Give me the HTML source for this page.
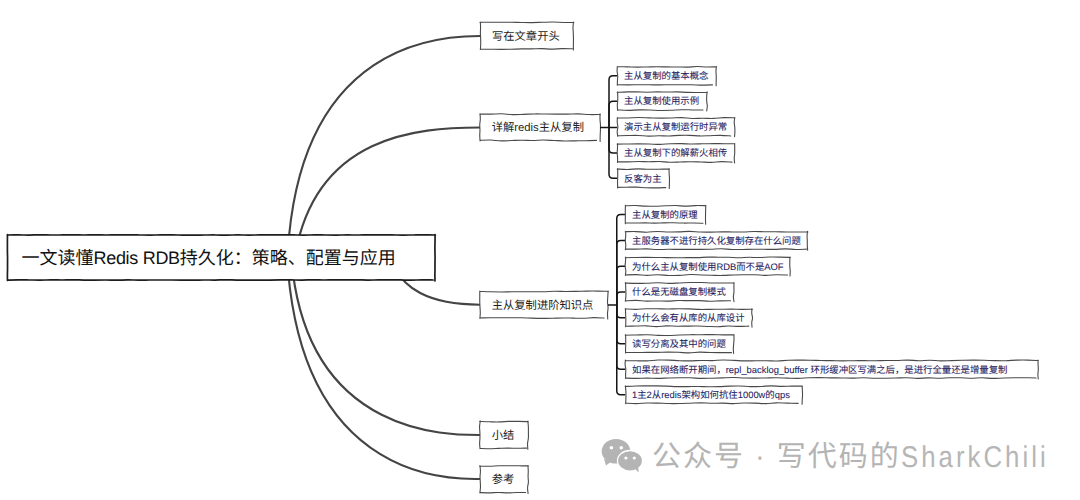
<!DOCTYPE html><html lang="zh-CN"><head><meta charset="utf-8"><style>
html,body{margin:0;padding:0;background:#fff;width:1080px;height:500px;overflow:hidden;position:relative}
.t{position:absolute;white-space:nowrap;font-family:"Liberation Sans",sans-serif;line-height:1;text-rendering:geometricPrecision}
.leaf{-webkit-text-stroke:0.08px #26235f}
</style></head><body>
<svg width="1080" height="500" style="position:absolute;left:0;top:0">
<path d="M287.8,251.7 C300.8,42.5 439.3,36 480,36" fill="none" stroke="#444" stroke-width="2.1"/>
<path d="M295.5,253.0 C317.4,135.8 416.2,127.5 480,127.5" fill="none" stroke="#444" stroke-width="2.1"/>
<path d="M395.9,268.8 C403.6,285.6 425.0,304.7 480,304.7" fill="none" stroke="#444" stroke-width="2.1"/>
<path d="M292.9,273.0 C314.0,436.2 448.4,435 480,435" fill="none" stroke="#444" stroke-width="2.1"/>
<path d="M288.1,271.4 C307.0,487.9 460.9,479 480,479" fill="none" stroke="#444" stroke-width="2.1"/>
<rect x="7.5" y="235" width="427.50" height="45.00" fill="#fff" stroke="none"/>
<path d="M7.20,234.98 C9.03,234.97 14.52,234.91 18.18,234.92 C21.84,234.93 25.50,235.04 29.16,235.04 C32.82,235.03 36.48,234.90 40.14,234.90 C43.80,234.89 47.46,235.00 51.12,235.01 C54.78,235.02 58.44,234.99 62.10,234.97 C65.76,234.95 69.42,234.89 73.08,234.89 C76.74,234.90 80.40,235.00 84.06,235.00 C87.72,235.00 91.38,234.89 95.04,234.89 C98.70,234.89 102.36,234.98 106.02,234.98 C109.68,234.99 113.34,234.91 116.99,234.90 C120.65,234.88 124.31,234.89 127.97,234.90 C131.63,234.92 135.29,234.95 138.95,234.98 C142.61,235.01 146.27,235.09 149.93,235.08 C153.59,235.07 157.25,234.93 160.91,234.91 C164.57,234.89 168.23,234.91 171.89,234.93 C175.55,234.95 179.21,235.00 182.87,235.03 C186.53,235.06 190.19,235.11 193.85,235.11 C197.51,235.11 201.17,235.04 204.83,235.02 C208.49,235.00 212.15,234.96 215.81,234.98 C219.47,234.99 223.13,235.13 226.79,235.11 C230.45,235.10 234.11,234.90 237.77,234.89 C241.43,234.89 245.09,235.08 248.75,235.09 C252.41,235.10 256.07,234.98 259.73,234.95 C263.39,234.92 267.05,234.92 270.71,234.91 C274.37,234.91 278.03,234.90 281.69,234.91 C285.35,234.91 289.01,234.93 292.67,234.95 C296.33,234.98 299.99,235.08 303.65,235.08 C307.31,235.07 310.97,234.93 314.63,234.92 C318.29,234.91 321.95,235.00 325.61,235.02 C329.26,235.04 332.92,235.04 336.58,235.03 C340.24,235.02 343.90,234.97 347.56,234.97 C351.22,234.97 354.88,235.02 358.54,235.01 C362.20,235.00 365.86,234.91 369.52,234.90 C373.18,234.88 376.84,234.89 380.50,234.89 C384.16,234.90 387.82,234.90 391.48,234.93 C395.14,234.95 398.80,235.03 402.46,235.04 C406.12,235.05 409.78,235.00 413.44,234.98 C417.10,234.97 420.76,234.95 424.42,234.96 C428.08,234.96 433.57,235.00 435.40,235.01 M435.01,234.60 C435.02,235.56 435.07,238.46 435.06,240.39 C435.04,242.32 434.93,244.25 434.92,246.17 C434.90,248.10 434.92,250.03 434.94,251.96 C434.97,253.89 435.07,255.82 435.07,257.75 C435.08,259.68 434.99,261.61 434.98,263.54 C434.97,265.47 435.01,267.40 434.99,269.32 C434.98,271.25 434.90,273.18 434.89,275.11 C434.89,277.04 434.95,279.94 434.97,280.90 M7.50,280.06 C9.32,280.03 14.78,279.92 18.41,279.91 C22.05,279.90 25.69,279.95 29.33,279.98 C32.97,280.01 36.60,280.07 40.24,280.06 C43.88,280.05 47.52,279.93 51.15,279.92 C54.79,279.91 58.43,280.00 62.07,280.00 C65.71,279.99 69.34,279.88 72.98,279.89 C76.62,279.90 80.26,280.01 83.90,280.04 C87.53,280.07 91.17,280.07 94.81,280.06 C98.45,280.06 102.09,280.01 105.72,280.02 C109.36,280.02 113.00,280.10 116.64,280.09 C120.28,280.08 123.91,279.96 127.55,279.96 C131.19,279.95 134.83,280.04 138.46,280.05 C142.10,280.06 145.74,280.03 149.38,280.02 C153.02,280.02 156.65,280.02 160.29,280.02 C163.93,280.01 167.57,279.98 171.21,279.99 C174.84,280.00 178.48,280.06 182.12,280.08 C185.76,280.10 189.40,280.12 193.03,280.11 C196.67,280.09 200.31,280.01 203.95,279.99 C207.59,279.98 211.22,280.06 214.86,280.04 C218.50,280.02 222.14,279.89 225.77,279.89 C229.41,279.90 233.05,280.02 236.69,280.05 C240.33,280.07 243.96,280.02 247.60,280.04 C251.24,280.05 254.88,280.11 258.52,280.12 C262.15,280.13 265.79,280.11 269.43,280.08 C273.07,280.05 276.71,279.97 280.34,279.95 C283.98,279.93 287.62,279.96 291.26,279.97 C294.90,279.99 298.53,280.06 302.17,280.04 C305.81,280.03 309.45,279.89 313.08,279.89 C316.72,279.88 320.36,279.98 324.00,279.99 C327.64,280.00 331.27,279.93 334.91,279.92 C338.55,279.91 342.19,279.91 345.83,279.91 C349.46,279.90 353.10,279.87 356.74,279.89 C360.38,279.92 364.02,280.06 367.65,280.06 C371.29,280.07 374.93,279.93 378.57,279.91 C382.21,279.89 385.84,279.93 389.48,279.94 C393.12,279.95 396.76,279.95 400.39,279.97 C404.03,280.00 407.67,280.10 411.31,280.09 C414.95,280.08 418.58,279.92 422.22,279.90 C425.86,279.88 431.32,279.98 433.14,279.99 M7.49,234.60 C7.48,235.56 7.42,238.43 7.41,240.34 C7.40,242.25 7.42,244.16 7.42,246.07 C7.42,247.99 7.39,249.90 7.41,251.81 C7.43,253.72 7.54,255.64 7.55,257.55 C7.57,259.46 7.52,261.38 7.52,263.29 C7.52,265.20 7.55,267.11 7.53,269.02 C7.52,270.94 7.42,272.85 7.41,274.76 C7.39,276.68 7.44,279.54 7.45,280.50" fill="none" stroke="#1e1e1e" stroke-width="1.7" stroke-linecap="round"/>
<rect x="480.25" y="22.5" width="93.25" height="26.50" fill="#fff" stroke="none"/>
<path d="M479.95,22.34 C481.69,22.32 486.91,22.22 490.39,22.21 C493.87,22.19 497.35,22.25 500.83,22.26 C504.31,22.27 507.79,22.22 511.27,22.26 C514.75,22.30 518.23,22.43 521.71,22.49 C525.19,22.54 528.66,22.61 532.14,22.58 C535.62,22.55 539.10,22.37 542.58,22.29 C546.06,22.20 549.54,22.03 553.02,22.05 C556.50,22.08 559.98,22.36 563.46,22.43 C566.94,22.49 572.16,22.44 573.90,22.44 M573.46,22.10 C573.39,23.03 573.04,25.81 573.01,27.66 C572.98,29.51 573.22,31.37 573.29,33.22 C573.37,35.07 573.47,36.93 573.48,38.78 C573.50,40.63 573.39,42.49 573.37,44.34 C573.36,46.19 573.40,48.97 573.40,49.90 M480.25,49.18 C481.96,49.19 487.07,49.23 490.48,49.25 C493.89,49.28 497.30,49.33 500.71,49.34 C504.12,49.34 507.54,49.34 510.95,49.27 C514.36,49.20 517.77,48.96 521.18,48.90 C524.59,48.84 528.00,48.95 531.41,48.91 C534.82,48.87 538.23,48.61 541.64,48.64 C545.05,48.68 548.46,49.13 551.87,49.12 C555.28,49.11 558.70,48.66 562.11,48.61 C565.52,48.55 570.63,48.77 572.34,48.81 M480.38,22.10 C480.41,23.01 480.55,25.75 480.55,27.58 C480.56,29.41 480.38,31.23 480.39,33.06 C480.41,34.89 480.60,36.71 480.65,38.54 C480.70,40.37 480.74,42.19 480.70,44.02 C480.66,45.85 480.46,48.59 480.41,49.50" fill="none" stroke="#4a4a4a" stroke-width="1.1" stroke-linecap="round"/>
<rect x="480.0" y="114.25" width="120.00" height="26.25" fill="#fff" stroke="none"/>
<path d="M479.70,114.07 C481.53,114.08 487.02,114.17 490.67,114.13 C494.33,114.09 497.99,113.75 501.65,113.82 C505.30,113.90 508.96,114.50 512.62,114.59 C516.28,114.68 519.93,114.46 523.59,114.35 C527.25,114.24 530.91,113.99 534.56,113.93 C538.22,113.88 541.88,114.00 545.54,114.03 C549.19,114.06 552.85,114.10 556.51,114.11 C560.17,114.13 563.82,114.16 567.48,114.13 C571.14,114.09 574.80,113.84 578.45,113.91 C582.11,113.98 585.77,114.47 589.43,114.56 C593.08,114.66 598.57,114.49 600.40,114.47 M600.02,113.85 C600.02,114.77 599.95,117.52 600.02,119.36 C600.09,121.20 600.38,123.03 600.45,124.87 C600.52,126.71 600.48,128.54 600.43,130.38 C600.38,132.22 600.22,134.05 600.17,135.89 C600.12,137.73 600.13,140.48 600.13,141.40 M480.00,140.35 C481.77,140.30 487.06,139.98 490.59,140.07 C494.12,140.16 497.65,140.83 501.18,140.91 C504.71,140.98 508.25,140.65 511.78,140.53 C515.31,140.40 518.84,140.18 522.37,140.18 C525.90,140.18 529.43,140.56 532.96,140.54 C536.49,140.52 540.02,140.08 543.55,140.07 C547.08,140.07 550.61,140.38 554.14,140.53 C557.68,140.67 561.21,140.88 564.74,140.93 C568.27,140.98 571.80,140.87 575.33,140.83 C578.86,140.78 582.39,140.75 585.92,140.68 C589.45,140.60 594.75,140.44 596.51,140.39 M480.06,113.85 C480.10,114.75 480.35,117.47 480.30,119.28 C480.25,121.09 479.81,122.90 479.76,124.71 C479.70,126.52 479.97,128.33 479.97,130.14 C479.97,131.95 479.73,133.76 479.75,135.57 C479.77,137.38 480.02,140.09 480.08,141.00" fill="none" stroke="#4a4a4a" stroke-width="1.1" stroke-linecap="round"/>
<rect x="480.0" y="291.5" width="128.00" height="26.50" fill="#fff" stroke="none"/>
<path d="M479.70,291.38 C481.49,291.44 486.85,291.69 490.43,291.78 C494.00,291.87 497.57,291.93 501.15,291.94 C504.72,291.94 508.30,291.84 511.88,291.82 C515.45,291.79 519.02,291.78 522.60,291.78 C526.18,291.77 529.75,291.80 533.33,291.79 C536.90,291.78 540.47,291.80 544.05,291.72 C547.62,291.63 551.20,291.29 554.77,291.25 C558.35,291.22 561.92,291.50 565.50,291.52 C569.08,291.54 572.65,291.44 576.23,291.37 C579.80,291.30 583.38,291.13 586.95,291.08 C590.53,291.03 594.10,291.02 597.67,291.08 C601.25,291.13 606.61,291.35 608.40,291.40 M608.13,291.10 C608.07,292.03 607.90,294.81 607.79,296.66 C607.69,298.51 607.46,300.37 607.51,302.22 C607.55,304.07 608.05,305.93 608.06,307.78 C608.06,309.63 607.58,311.49 607.53,313.34 C607.47,315.19 607.70,317.97 607.74,318.90 M480.00,317.94 C481.72,317.91 486.90,317.78 490.34,317.75 C493.79,317.72 497.24,317.76 500.69,317.75 C504.14,317.75 507.59,317.73 511.03,317.73 C514.48,317.72 517.93,317.67 521.38,317.73 C524.83,317.80 528.27,318.01 531.72,318.11 C535.17,318.22 538.62,318.33 542.07,318.36 C545.52,318.39 548.96,318.37 552.41,318.31 C555.86,318.24 559.31,318.01 562.76,317.98 C566.20,317.95 569.65,318.09 573.10,318.14 C576.55,318.19 580.00,318.35 583.45,318.27 C586.89,318.18 590.34,317.66 593.79,317.63 C597.24,317.59 602.41,318.00 604.13,318.07 M479.82,291.10 C479.80,292.01 479.75,294.75 479.75,296.58 C479.74,298.41 479.73,300.23 479.77,302.06 C479.82,303.89 479.93,305.71 480.02,307.54 C480.11,309.37 480.31,311.19 480.29,313.02 C480.26,314.85 479.94,317.59 479.87,318.50" fill="none" stroke="#4a4a4a" stroke-width="1.1" stroke-linecap="round"/>
<rect x="480.0" y="421.5" width="48.00" height="26.75" fill="#fff" stroke="none"/>
<path d="M479.70,421.42 C481.32,421.48 486.19,421.69 489.44,421.77 C492.69,421.85 495.93,421.99 499.18,421.92 C502.43,421.86 505.67,421.49 508.92,421.41 C512.17,421.32 515.41,421.36 518.66,421.41 C521.91,421.46 526.78,421.65 528.40,421.70 M527.88,421.10 C527.96,422.04 528.27,424.84 528.36,426.71 C528.44,428.58 528.40,430.45 528.40,432.32 C528.41,434.19 528.52,436.06 528.38,437.93 C528.24,439.80 527.65,441.67 527.56,443.54 C527.47,445.41 527.79,448.21 527.83,449.15 M480.00,448.40 C481.55,448.44 486.21,448.68 489.31,448.68 C492.42,448.68 495.52,448.49 498.62,448.39 C501.73,448.30 504.83,448.13 507.94,448.12 C511.04,448.10 514.15,448.30 517.25,448.29 C520.35,448.29 525.01,448.12 526.56,448.08 M480.22,421.10 C480.11,422.02 479.64,424.79 479.58,426.63 C479.52,428.47 479.80,430.32 479.87,432.16 C479.93,434.00 480.02,435.85 479.98,437.69 C479.93,439.53 479.60,441.38 479.61,443.22 C479.62,445.06 479.96,447.83 480.03,448.75" fill="none" stroke="#4a4a4a" stroke-width="1.1" stroke-linecap="round"/>
<rect x="480.0" y="466.0" width="48.00" height="26.50" fill="#fff" stroke="none"/>
<path d="M479.70,466.17 C481.32,466.19 486.19,466.36 489.44,466.29 C492.69,466.22 495.93,465.83 499.18,465.74 C502.43,465.65 505.67,465.76 508.92,465.78 C512.17,465.79 515.41,465.80 518.66,465.81 C521.91,465.83 526.78,465.87 528.40,465.88 M527.95,465.60 C528.00,466.53 528.24,469.31 528.26,471.16 C528.28,473.01 528.06,474.87 528.09,476.72 C528.11,478.57 528.49,480.43 528.40,482.28 C528.31,484.13 527.61,485.99 527.56,487.84 C527.50,489.69 527.99,492.47 528.08,493.40 M480.00,492.54 C481.52,492.59 486.08,492.88 489.13,492.86 C492.17,492.85 495.21,492.43 498.25,492.43 C501.29,492.43 504.33,492.86 507.38,492.88 C510.42,492.89 513.46,492.56 516.50,492.50 C519.54,492.44 524.10,492.51 525.63,492.51 M479.99,465.60 C480.06,466.51 480.42,469.25 480.43,471.08 C480.44,472.91 480.08,474.73 480.05,476.56 C480.03,478.39 480.22,480.21 480.29,482.04 C480.35,483.87 480.52,485.69 480.45,487.52 C480.38,489.35 479.96,492.09 479.87,493.00" fill="none" stroke="#4a4a4a" stroke-width="1.1" stroke-linecap="round"/>
<path d="M600,127.5 L609,127.5" fill="none" stroke="#151515" stroke-width="1.5"/>
<path d="M609,127.5 L609,79.825 Q609,75.825 613,75.825 L617.5,75.825" fill="none" stroke="#151515" stroke-width="1.5"/>
<path d="M609,127.5 L609,105.125 Q609,101.125 613,101.125 L617.5,101.125" fill="none" stroke="#151515" stroke-width="1.5"/>
<path d="M609,127.5 L617.5,127.5" fill="none" stroke="#151515" stroke-width="1.5"/>
<path d="M609,127.5 L609,149.0 Q609,153.0 613,153.0 L617.5,153.0" fill="none" stroke="#151515" stroke-width="1.5"/>
<path d="M609,127.5 L609,174.25 Q609,178.25 613,178.25 L617.5,178.25" fill="none" stroke="#151515" stroke-width="1.5"/>
<rect x="617.5" y="66.9" width="98.75" height="17.85" fill="#fff" stroke="none"/>
<path d="M617.20,66.75 C618.86,66.77 623.83,66.82 627.14,66.88 C630.46,66.93 633.77,67.09 637.09,67.10 C640.41,67.12 643.72,67.01 647.04,66.95 C650.35,66.89 653.67,66.75 656.98,66.74 C660.29,66.74 663.61,66.88 666.92,66.92 C670.24,66.95 673.55,66.91 676.87,66.95 C680.19,66.99 683.50,67.22 686.82,67.16 C690.13,67.09 693.45,66.58 696.76,66.55 C700.07,66.51 703.39,66.91 706.70,66.95 C710.02,66.99 714.99,66.81 716.65,66.79 M716.37,66.50 C716.30,67.30 715.98,69.69 715.96,71.29 C715.93,72.88 716.20,74.48 716.24,76.08 C716.28,77.67 716.21,79.27 716.18,80.86 C716.16,82.46 716.12,84.85 716.11,85.65 M617.50,84.72 C619.26,84.75 624.54,84.85 628.06,84.85 C631.58,84.86 635.09,84.77 638.61,84.75 C642.13,84.74 645.65,84.73 649.17,84.76 C652.69,84.79 656.21,84.93 659.73,84.92 C663.25,84.91 666.77,84.73 670.28,84.71 C673.80,84.68 677.32,84.78 680.84,84.78 C684.36,84.78 687.88,84.67 691.40,84.73 C694.92,84.79 698.44,85.13 701.96,85.15 C705.47,85.17 710.75,84.89 712.51,84.84 M617.33,66.50 C617.29,67.28 617.04,69.62 617.10,71.19 C617.17,72.75 617.66,74.31 617.72,75.88 C617.77,77.44 617.52,79.00 617.45,80.56 C617.38,82.12 617.32,84.47 617.30,85.25" fill="none" stroke="#4a4a4a" stroke-width="1.1" stroke-linecap="round"/>
<rect x="617.5" y="92.25" width="89.40" height="17.75" fill="#fff" stroke="none"/>
<path d="M617.20,92.40 C618.87,92.32 623.87,92.01 627.21,91.92 C630.55,91.84 633.89,91.86 637.22,91.91 C640.56,91.96 643.90,92.21 647.23,92.20 C650.57,92.19 653.91,91.90 657.24,91.87 C660.58,91.84 663.92,92.02 667.26,92.02 C670.59,92.02 673.93,91.80 677.27,91.87 C680.60,91.93 683.94,92.30 687.28,92.40 C690.61,92.51 693.95,92.50 697.29,92.51 C700.63,92.51 705.63,92.44 707.30,92.43 M707.09,91.85 C707.02,92.64 706.73,95.02 706.67,96.61 C706.61,98.20 706.62,99.79 706.73,101.38 C706.83,102.96 707.29,104.55 707.29,106.14 C707.28,107.73 706.79,110.11 706.69,110.90 M617.50,109.87 C619.28,109.96 624.62,110.40 628.19,110.41 C631.75,110.41 635.31,109.98 638.87,109.91 C642.44,109.84 646.00,109.90 649.56,109.99 C653.12,110.08 656.69,110.39 660.25,110.44 C663.81,110.49 667.37,110.42 670.94,110.30 C674.50,110.17 678.06,109.76 681.62,109.70 C685.19,109.64 688.75,109.89 692.31,109.94 C695.87,109.99 701.22,110.00 703.00,110.01 M617.57,91.85 C617.61,92.63 617.76,94.96 617.77,96.51 C617.79,98.07 617.74,99.62 617.66,101.17 C617.58,102.73 617.29,104.28 617.30,105.84 C617.31,107.39 617.65,109.72 617.72,110.50" fill="none" stroke="#4a4a4a" stroke-width="1.1" stroke-linecap="round"/>
<rect x="617.5" y="118.0" width="117.00" height="17.75" fill="#fff" stroke="none"/>
<path d="M617.20,118.02 C618.98,118.01 624.33,118.02 627.90,117.95 C631.47,117.87 635.03,117.58 638.60,117.57 C642.17,117.55 645.73,117.76 649.30,117.85 C652.87,117.94 656.43,118.08 660.00,118.11 C663.57,118.14 667.13,118.09 670.70,118.01 C674.27,117.93 677.83,117.54 681.40,117.61 C684.97,117.68 688.53,118.33 692.10,118.44 C695.67,118.55 699.23,118.26 702.80,118.26 C706.37,118.26 709.93,118.53 713.50,118.42 C717.07,118.32 720.63,117.73 724.20,117.64 C727.77,117.56 733.12,117.85 734.90,117.89 M734.75,117.60 C734.66,118.39 734.20,120.77 734.20,122.36 C734.20,123.95 734.63,125.54 734.75,127.12 C734.86,128.71 734.93,130.30 734.90,131.89 C734.87,133.47 734.60,135.86 734.54,136.65 M617.50,135.89 C619.22,135.83 624.36,135.61 627.80,135.53 C631.23,135.46 634.66,135.34 638.09,135.43 C641.53,135.53 644.96,136.06 648.39,136.13 C651.82,136.19 655.26,135.85 658.69,135.81 C662.12,135.78 665.55,136.00 668.98,135.93 C672.42,135.86 675.85,135.48 679.28,135.38 C682.71,135.28 686.15,135.26 689.58,135.35 C693.01,135.44 696.44,135.86 699.88,135.92 C703.31,135.97 706.74,135.78 710.17,135.68 C713.60,135.59 717.04,135.32 720.47,135.37 C723.90,135.41 729.05,135.85 730.77,135.95 M617.44,117.60 C617.40,118.38 617.16,120.71 617.23,122.26 C617.30,123.82 617.88,125.37 617.87,126.92 C617.87,128.48 617.21,130.03 617.18,131.59 C617.15,133.14 617.61,135.47 617.70,136.25" fill="none" stroke="#4a4a4a" stroke-width="1.1" stroke-linecap="round"/>
<rect x="617.5" y="144.0" width="117.00" height="18.00" fill="#fff" stroke="none"/>
<path d="M617.20,144.16 C618.98,144.13 624.33,144.01 627.90,143.96 C631.47,143.91 635.03,143.84 638.60,143.86 C642.17,143.87 645.73,143.96 649.30,144.05 C652.87,144.14 656.43,144.43 660.00,144.38 C663.57,144.34 667.13,143.91 670.70,143.79 C674.27,143.67 677.83,143.63 681.40,143.67 C684.97,143.71 688.53,144.01 692.10,144.02 C695.67,144.04 699.23,143.83 702.80,143.76 C706.37,143.70 709.93,143.66 713.50,143.65 C717.07,143.64 720.63,143.67 724.20,143.70 C727.77,143.72 733.12,143.78 734.90,143.80 M734.66,143.60 C734.67,144.40 734.69,146.82 734.70,148.43 C734.71,150.03 734.79,151.64 734.71,153.25 C734.63,154.86 734.24,156.47 734.22,158.07 C734.20,159.68 734.55,162.10 734.61,162.90 M617.50,161.86 C619.23,161.86 624.44,161.91 627.91,161.86 C631.38,161.81 634.85,161.58 638.32,161.57 C641.79,161.55 645.26,161.78 648.73,161.78 C652.20,161.77 655.67,161.49 659.14,161.56 C662.61,161.64 666.08,162.13 669.55,162.21 C673.02,162.29 676.48,162.13 679.95,162.05 C683.42,161.96 686.89,161.73 690.36,161.72 C693.83,161.71 697.30,161.87 700.77,161.98 C704.24,162.09 707.71,162.45 711.18,162.39 C714.65,162.34 718.12,161.69 721.59,161.65 C725.06,161.60 730.26,162.06 732.00,162.14 M617.53,143.60 C617.53,144.39 617.56,146.75 617.50,148.32 C617.45,149.90 617.18,151.48 617.20,153.05 C617.21,154.62 617.55,156.20 617.60,157.78 C617.65,159.35 617.51,161.71 617.50,162.50" fill="none" stroke="#4a4a4a" stroke-width="1.1" stroke-linecap="round"/>
<rect x="617.5" y="169.0" width="51.50" height="18.50" fill="#fff" stroke="none"/>
<path d="M617.20,169.08 C618.94,169.14 624.16,169.47 627.64,169.43 C631.12,169.40 634.60,168.88 638.08,168.86 C641.56,168.84 645.04,169.24 648.52,169.30 C652.00,169.35 655.48,169.23 658.96,169.19 C662.44,169.15 667.66,169.08 669.40,169.06 M669.05,168.60 C669.07,169.43 669.09,171.90 669.16,173.55 C669.24,175.20 669.44,176.85 669.48,178.50 C669.52,180.15 669.44,181.80 669.40,183.45 C669.36,185.10 669.26,187.57 669.23,188.40 M617.50,187.39 C619.11,187.36 623.94,187.24 627.16,187.20 C630.37,187.15 633.59,187.02 636.81,187.13 C640.03,187.23 643.25,187.69 646.47,187.81 C649.68,187.93 652.90,187.87 656.12,187.83 C659.34,187.80 664.17,187.62 665.78,187.58 M617.60,168.60 C617.62,169.41 617.72,171.83 617.73,173.45 C617.75,175.07 617.72,176.68 617.69,178.30 C617.65,179.92 617.54,181.53 617.54,183.15 C617.53,184.77 617.63,187.19 617.65,188.00" fill="none" stroke="#4a4a4a" stroke-width="1.1" stroke-linecap="round"/>
<path d="M608,305 L616.75,305" fill="none" stroke="#151515" stroke-width="1.5"/>
<path d="M616.75,305 L616.75,218.5 Q616.75,214.5 620.75,214.5 L625.5,214.5" fill="none" stroke="#151515" stroke-width="1.5"/>
<path d="M616.75,305 L616.75,244.5 Q616.75,240.5 620.75,240.5 L625.5,240.5" fill="none" stroke="#151515" stroke-width="1.5"/>
<path d="M616.75,305 L616.75,270.25 Q616.75,266.25 620.75,266.25 L625.5,266.25" fill="none" stroke="#151515" stroke-width="1.5"/>
<path d="M616.75,305 L616.75,295.875 Q616.75,291.875 620.75,291.875 L625.5,291.875" fill="none" stroke="#151515" stroke-width="1.5"/>
<path d="M616.75,305 L616.75,313.625 Q616.75,317.625 620.75,317.625 L625.5,317.625" fill="none" stroke="#151515" stroke-width="1.5"/>
<path d="M616.75,305 L616.75,339.75 Q616.75,343.75 620.75,343.75 L625.5,343.75" fill="none" stroke="#151515" stroke-width="1.5"/>
<path d="M616.75,305 L616.75,365.25 Q616.75,369.25 620.75,369.25 L625.5,369.25" fill="none" stroke="#151515" stroke-width="1.5"/>
<path d="M616.75,305 L616.75,390.75 Q616.75,394.75 620.75,394.75 L625.5,394.75" fill="none" stroke="#151515" stroke-width="1.5"/>
<rect x="625.5" y="205.75" width="80.00" height="17.50" fill="#fff" stroke="none"/>
<path d="M625.20,205.73 C626.88,205.69 631.93,205.46 635.29,205.54 C638.65,205.61 642.01,206.06 645.38,206.17 C648.74,206.27 652.10,206.24 655.46,206.18 C658.82,206.11 662.19,205.90 665.55,205.79 C668.91,205.68 672.28,205.46 675.64,205.52 C679.00,205.58 682.36,206.16 685.73,206.17 C689.09,206.18 692.45,205.66 695.81,205.58 C699.17,205.50 704.22,205.67 705.90,205.69 M705.77,205.35 C705.75,206.13 705.67,208.48 705.63,210.05 C705.59,211.62 705.55,213.18 705.53,214.75 C705.51,216.32 705.47,217.88 705.50,219.45 C705.52,221.02 705.63,223.37 705.66,224.15 M625.50,223.03 C627.11,223.03 631.96,223.06 635.19,223.04 C638.41,223.01 641.64,222.86 644.87,222.88 C648.10,222.90 651.33,223.17 654.56,223.16 C657.79,223.15 661.01,222.89 664.24,222.84 C667.47,222.78 670.70,222.78 673.93,222.82 C677.16,222.86 680.39,223.04 683.61,223.07 C686.84,223.11 690.07,222.97 693.30,223.01 C696.53,223.05 701.37,223.24 702.99,223.29 M625.49,205.35 C625.45,206.12 625.30,208.42 625.27,209.95 C625.25,211.48 625.35,213.02 625.36,214.55 C625.36,216.08 625.31,217.62 625.31,219.15 C625.30,220.68 625.33,222.98 625.33,223.75" fill="none" stroke="#4a4a4a" stroke-width="1.1" stroke-linecap="round"/>
<rect x="625.5" y="231.75" width="182.00" height="17.50" fill="#fff" stroke="none"/>
<path d="M625.20,231.70 C626.99,231.68 632.36,231.51 635.95,231.59 C639.53,231.67 643.11,232.21 646.69,232.19 C650.28,232.16 653.86,231.47 657.44,231.43 C661.02,231.40 664.61,231.88 668.19,231.95 C671.77,232.03 675.35,231.98 678.94,231.88 C682.52,231.78 686.10,231.31 689.68,231.34 C693.26,231.37 696.85,231.92 700.43,232.05 C704.01,232.18 707.59,232.13 711.18,232.10 C714.76,232.07 718.34,231.89 721.92,231.86 C725.51,231.84 729.09,231.93 732.67,231.96 C736.25,231.99 739.84,232.12 743.42,232.03 C747.00,231.94 750.58,231.47 754.16,231.43 C757.75,231.38 761.33,231.72 764.91,231.77 C768.49,231.83 772.08,231.71 775.66,231.75 C779.24,231.80 782.82,232.01 786.41,232.05 C789.99,232.10 793.57,232.05 797.15,232.02 C800.74,232.00 806.11,231.92 807.90,231.90 M807.45,231.35 C807.39,232.13 807.10,234.48 807.08,236.05 C807.05,237.62 807.27,239.18 807.30,240.75 C807.34,242.32 807.23,243.88 807.29,245.45 C807.35,247.02 807.59,249.37 807.65,250.15 M625.50,249.08 C627.27,249.09 632.59,249.16 636.14,249.12 C639.69,249.09 643.24,248.82 646.78,248.89 C650.33,248.97 653.88,249.48 657.42,249.55 C660.97,249.62 664.52,249.33 668.07,249.30 C671.61,249.27 675.16,249.35 678.71,249.36 C682.25,249.38 685.80,249.36 689.35,249.36 C692.90,249.37 696.44,249.43 699.99,249.41 C703.54,249.39 707.09,249.34 710.63,249.24 C714.18,249.14 717.73,248.76 721.27,248.80 C724.82,248.85 728.37,249.41 731.92,249.52 C735.46,249.63 739.01,249.52 742.56,249.47 C746.10,249.43 749.65,249.28 753.20,249.25 C756.75,249.22 760.29,249.26 763.84,249.28 C767.39,249.31 770.93,249.46 774.48,249.39 C778.03,249.32 781.58,248.85 785.12,248.86 C788.67,248.87 792.22,249.42 795.76,249.46 C799.31,249.51 804.63,249.19 806.41,249.14 M625.69,231.35 C625.69,232.12 625.78,234.42 625.71,235.95 C625.64,237.48 625.28,239.02 625.29,240.55 C625.30,242.08 625.75,243.62 625.77,245.15 C625.78,246.68 625.45,248.98 625.39,249.75" fill="none" stroke="#4a4a4a" stroke-width="1.1" stroke-linecap="round"/>
<rect x="625.5" y="257.5" width="164.50" height="17.50" fill="#fff" stroke="none"/>
<path d="M625.20,257.71 C626.92,257.68 632.08,257.55 635.53,257.49 C638.97,257.44 642.41,257.40 645.85,257.39 C649.29,257.39 652.73,257.44 656.18,257.48 C659.62,257.53 663.06,257.62 666.50,257.67 C669.94,257.71 673.38,257.75 676.83,257.74 C680.27,257.73 683.71,257.62 687.15,257.61 C690.59,257.59 694.03,257.71 697.48,257.63 C700.92,257.55 704.36,257.19 707.80,257.12 C711.24,257.05 714.68,257.16 718.12,257.18 C721.57,257.21 725.01,257.19 728.45,257.28 C731.89,257.37 735.33,257.71 738.77,257.72 C742.22,257.73 745.66,257.35 749.10,257.32 C752.54,257.30 755.98,257.60 759.42,257.56 C762.87,257.52 766.31,257.14 769.75,257.06 C773.19,256.99 776.63,257.05 780.08,257.10 C783.52,257.16 788.68,257.35 790.40,257.40 M789.91,257.10 C789.89,257.88 789.81,260.23 789.79,261.80 C789.78,263.37 789.74,264.93 789.81,266.50 C789.88,268.07 790.20,269.63 790.23,271.20 C790.26,272.77 790.03,275.12 789.99,275.90 M625.50,274.98 C627.30,274.93 632.70,274.60 636.31,274.66 C639.91,274.72 643.51,275.34 647.11,275.35 C650.72,275.37 654.32,274.72 657.92,274.73 C661.52,274.74 665.13,275.32 668.73,275.43 C672.33,275.54 675.93,275.54 679.54,275.39 C683.14,275.25 686.74,274.64 690.34,274.57 C693.94,274.49 697.55,274.84 701.15,274.96 C704.75,275.08 708.35,275.21 711.96,275.29 C715.56,275.36 719.16,275.48 722.76,275.42 C726.37,275.37 729.97,275.06 733.57,274.95 C737.17,274.85 740.78,274.83 744.38,274.79 C747.98,274.76 751.58,274.64 755.18,274.74 C758.79,274.84 762.39,275.40 765.99,275.40 C769.59,275.40 773.20,274.80 776.80,274.74 C780.40,274.68 785.80,274.99 787.61,275.04 M625.66,257.10 C625.63,257.87 625.57,260.17 625.48,261.70 C625.38,263.23 625.03,264.77 625.09,266.30 C625.15,267.83 625.79,269.37 625.83,270.90 C625.87,272.43 625.44,274.73 625.36,275.50" fill="none" stroke="#4a4a4a" stroke-width="1.1" stroke-linecap="round"/>
<rect x="625.5" y="283.0" width="108.25" height="17.75" fill="#fff" stroke="none"/>
<path d="M625.20,283.00 C627.02,283.06 632.46,283.32 636.10,283.35 C639.73,283.38 643.36,283.28 646.99,283.18 C650.62,283.08 654.25,282.73 657.88,282.76 C661.52,282.79 665.15,283.32 668.78,283.36 C672.41,283.40 676.04,283.12 679.67,282.99 C683.31,282.86 686.94,282.64 690.57,282.57 C694.20,282.50 697.83,282.48 701.47,282.55 C705.10,282.62 708.73,282.93 712.36,282.99 C715.99,283.06 719.62,282.97 723.25,282.96 C726.89,282.94 732.33,282.92 734.15,282.91 M733.94,282.60 C733.94,283.39 733.92,285.78 733.92,287.36 C733.92,288.95 734.04,290.54 733.95,292.12 C733.86,293.71 733.37,295.30 733.38,296.89 C733.39,298.47 733.91,300.86 734.02,301.65 M625.50,300.90 C627.25,300.82 632.50,300.37 636.00,300.41 C639.50,300.45 643.00,301.04 646.50,301.13 C650.00,301.22 653.50,300.95 657.00,300.94 C660.50,300.94 664.00,301.17 667.50,301.11 C671.00,301.05 674.50,300.64 678.00,300.56 C681.50,300.48 685.00,300.62 688.50,300.63 C692.00,300.65 695.50,300.56 699.00,300.65 C702.50,300.75 706.00,301.17 709.50,301.20 C713.00,301.23 716.50,300.92 720.00,300.83 C723.50,300.74 728.75,300.71 730.50,300.69 M625.53,282.60 C625.56,283.38 625.64,285.71 625.70,287.26 C625.76,288.82 625.88,290.37 625.91,291.93 C625.93,293.48 625.95,295.03 625.86,296.59 C625.77,298.14 625.43,300.47 625.35,301.25" fill="none" stroke="#4a4a4a" stroke-width="1.1" stroke-linecap="round"/>
<rect x="625.5" y="309.0" width="126.50" height="17.25" fill="#fff" stroke="none"/>
<path d="M625.20,308.90 C626.97,308.98 632.27,309.41 635.80,309.39 C639.33,309.37 642.87,308.87 646.40,308.77 C649.93,308.67 653.47,308.75 657.00,308.79 C660.53,308.83 664.07,309.02 667.60,309.01 C671.13,309.00 674.67,308.74 678.20,308.72 C681.73,308.70 685.27,308.77 688.80,308.89 C692.33,309.00 695.87,309.33 699.40,309.41 C702.93,309.49 706.47,309.37 710.00,309.35 C713.53,309.32 717.07,309.32 720.60,309.28 C724.13,309.24 727.67,309.10 731.20,309.12 C734.73,309.13 738.27,309.36 741.80,309.37 C745.33,309.39 750.63,309.23 752.40,309.20 M751.97,308.60 C751.94,309.37 751.68,311.69 751.76,313.24 C751.85,314.78 752.49,316.33 752.49,317.88 C752.48,319.42 751.83,320.97 751.75,322.51 C751.67,324.06 751.98,326.38 752.03,327.15 M625.50,326.32 C627.21,326.27 632.35,326.14 635.77,326.06 C639.19,325.98 642.62,325.75 646.04,325.84 C649.46,325.94 652.89,326.62 656.31,326.63 C659.73,326.65 663.16,325.98 666.58,325.91 C670.00,325.85 673.43,326.19 676.85,326.22 C680.27,326.26 683.70,326.14 687.12,326.11 C690.54,326.08 693.97,326.01 697.39,326.07 C700.81,326.13 704.24,326.36 707.66,326.47 C711.08,326.57 714.51,326.75 717.93,326.68 C721.35,326.61 724.78,326.08 728.20,326.03 C731.63,325.99 735.05,326.37 738.47,326.39 C741.90,326.41 747.03,326.20 748.74,326.16 M625.47,308.60 C625.49,309.36 625.54,311.63 625.60,313.14 C625.65,314.65 625.76,316.16 625.80,317.68 C625.83,319.19 625.83,320.70 625.80,322.21 C625.78,323.72 625.66,325.99 625.63,326.75" fill="none" stroke="#4a4a4a" stroke-width="1.1" stroke-linecap="round"/>
<rect x="625.5" y="335.0" width="108.25" height="17.50" fill="#fff" stroke="none"/>
<path d="M625.20,335.18 C627.02,335.15 632.46,335.07 636.10,335.00 C639.73,334.92 643.36,334.69 646.99,334.75 C650.62,334.81 654.25,335.25 657.88,335.37 C661.52,335.48 665.15,335.52 668.78,335.45 C672.41,335.38 676.04,335.08 679.67,334.95 C683.31,334.83 686.94,334.71 690.57,334.68 C694.20,334.64 697.83,334.73 701.47,334.72 C705.10,334.72 708.73,334.61 712.36,334.63 C715.99,334.65 719.62,334.83 723.25,334.86 C726.89,334.89 732.33,334.82 734.15,334.82 M733.89,334.60 C733.91,335.38 734.05,337.73 734.01,339.30 C733.97,340.87 733.79,342.43 733.67,344.00 C733.56,345.57 733.34,347.13 733.33,348.70 C733.32,350.27 733.57,352.62 733.62,353.40 M625.50,352.46 C627.27,352.47 632.57,352.53 636.10,352.52 C639.63,352.51 643.17,352.42 646.70,352.39 C650.24,352.36 653.77,352.40 657.30,352.35 C660.84,352.31 664.37,352.11 667.90,352.11 C671.44,352.10 674.97,352.16 678.51,352.30 C682.04,352.44 685.57,352.94 689.11,352.92 C692.64,352.90 696.17,352.23 699.71,352.16 C703.24,352.09 706.78,352.43 710.31,352.50 C713.84,352.58 717.38,352.59 720.91,352.62 C724.44,352.64 729.74,352.66 731.51,352.66 M625.63,334.60 C625.64,335.37 625.69,337.67 625.71,339.20 C625.72,340.73 625.75,342.27 625.73,343.80 C625.71,345.33 625.62,346.87 625.59,348.40 C625.56,349.93 625.54,352.23 625.52,353.00" fill="none" stroke="#4a4a4a" stroke-width="1.1" stroke-linecap="round"/>
<rect x="625.5" y="360.5" width="412.50" height="17.50" fill="#fff" stroke="none"/>
<path d="M625.20,360.70 C627.01,360.72 632.45,360.79 636.07,360.81 C639.70,360.84 643.32,360.96 646.95,360.84 C650.57,360.71 654.20,360.20 657.82,360.07 C661.45,359.94 665.07,359.98 668.69,360.08 C672.32,360.18 675.94,360.56 679.57,360.69 C683.19,360.82 686.82,360.89 690.44,360.86 C694.07,360.82 697.69,360.52 701.32,360.48 C704.94,360.43 708.56,360.65 712.19,360.58 C715.81,360.51 719.44,360.08 723.06,360.05 C726.69,360.02 730.31,360.26 733.94,360.40 C737.56,360.54 741.19,360.82 744.81,360.88 C748.44,360.95 752.06,360.80 755.68,360.79 C759.31,360.78 762.93,360.80 766.56,360.82 C770.18,360.84 773.81,361.02 777.43,360.93 C781.06,360.83 784.68,360.40 788.31,360.27 C791.93,360.14 795.55,360.16 799.18,360.15 C802.80,360.13 806.43,360.13 810.05,360.19 C813.68,360.25 817.30,360.44 820.93,360.52 C824.55,360.60 828.18,360.60 831.80,360.66 C835.42,360.73 839.05,360.89 842.67,360.90 C846.30,360.90 849.92,360.74 853.55,360.70 C857.17,360.66 860.80,360.63 864.42,360.63 C868.05,360.64 871.67,360.77 875.29,360.74 C878.92,360.71 882.54,360.49 886.17,360.46 C889.79,360.43 893.42,360.61 897.04,360.55 C900.67,360.48 904.29,360.05 907.92,360.09 C911.54,360.12 915.16,360.73 918.79,360.75 C922.41,360.78 926.04,360.24 929.66,360.26 C933.29,360.28 936.91,360.82 940.54,360.88 C944.16,360.94 947.79,360.72 951.41,360.63 C955.04,360.54 958.66,360.40 962.28,360.32 C965.91,360.25 969.53,360.17 973.16,360.17 C976.78,360.16 980.41,360.20 984.03,360.28 C987.66,360.35 991.28,360.56 994.91,360.62 C998.53,360.69 1002.15,360.76 1005.78,360.68 C1009.40,360.60 1013.03,360.25 1016.65,360.15 C1020.28,360.06 1023.90,360.05 1027.53,360.11 C1031.15,360.17 1036.59,360.44 1038.40,360.51 M1037.96,360.10 C1037.98,360.88 1038.06,363.23 1038.12,364.80 C1038.18,366.37 1038.34,367.93 1038.30,369.50 C1038.26,371.07 1037.90,372.63 1037.89,374.20 C1037.89,375.77 1038.20,378.12 1038.26,378.90 M625.50,377.98 C627.30,378.05 632.70,378.39 636.31,378.41 C639.91,378.44 643.51,378.14 647.11,378.13 C650.71,378.12 654.31,378.37 657.92,378.35 C661.52,378.32 665.12,378.08 668.72,377.98 C672.32,377.88 675.92,377.80 679.53,377.76 C683.13,377.73 686.73,377.66 690.33,377.77 C693.93,377.88 697.53,378.35 701.14,378.41 C704.74,378.48 708.34,378.28 711.94,378.18 C715.54,378.09 719.14,377.93 722.75,377.83 C726.35,377.72 729.95,377.54 733.55,377.57 C737.15,377.60 740.75,377.90 744.36,378.00 C747.96,378.10 751.56,378.17 755.16,378.16 C758.76,378.15 762.37,377.99 765.97,377.93 C769.57,377.87 773.17,377.74 776.77,377.78 C780.37,377.82 783.98,378.05 787.58,378.15 C791.18,378.25 794.78,378.45 798.38,378.38 C801.98,378.32 805.59,377.89 809.19,377.75 C812.79,377.62 816.39,377.56 819.99,377.58 C823.59,377.60 827.20,377.80 830.80,377.85 C834.40,377.91 838.00,377.88 841.60,377.93 C845.20,377.98 848.81,378.20 852.41,378.16 C856.01,378.13 859.61,377.71 863.21,377.73 C866.81,377.75 870.42,378.19 874.02,378.27 C877.62,378.35 881.22,378.26 884.82,378.22 C888.43,378.17 892.03,378.08 895.63,378.00 C899.23,377.92 902.83,377.66 906.43,377.73 C910.04,377.80 913.64,378.41 917.24,378.42 C920.84,378.44 924.44,377.85 928.04,377.83 C931.65,377.81 935.25,378.30 938.85,378.29 C942.45,378.28 946.05,377.85 949.65,377.76 C953.26,377.67 956.86,377.67 960.46,377.75 C964.06,377.83 967.66,378.22 971.26,378.23 C974.87,378.25 978.47,377.79 982.07,377.82 C985.67,377.84 989.27,378.38 992.87,378.41 C996.48,378.44 1000.08,378.11 1003.68,378.00 C1007.28,377.88 1010.88,377.76 1014.49,377.72 C1018.09,377.68 1021.69,377.71 1025.29,377.75 C1028.89,377.79 1034.29,377.93 1036.10,377.96 M625.43,360.10 C625.37,360.87 625.03,363.17 625.10,364.70 C625.16,366.23 625.73,367.77 625.82,369.30 C625.90,370.83 625.63,372.37 625.60,373.90 C625.56,375.43 625.62,377.73 625.63,378.50" fill="none" stroke="#4a4a4a" stroke-width="1.1" stroke-linecap="round"/>
<rect x="625.5" y="386.25" width="176.50" height="17.00" fill="#fff" stroke="none"/>
<path d="M625.20,386.46 C626.94,386.37 632.15,386.03 635.62,385.93 C639.10,385.82 642.57,385.86 646.05,385.85 C649.52,385.83 653.00,385.80 656.47,385.85 C659.95,385.91 663.42,386.03 666.89,386.15 C670.37,386.28 673.84,386.53 677.32,386.61 C680.79,386.68 684.27,386.62 687.74,386.60 C691.22,386.57 694.69,386.44 698.16,386.46 C701.64,386.48 705.11,386.67 708.59,386.70 C712.06,386.73 715.54,386.74 719.01,386.64 C722.49,386.54 725.96,386.21 729.44,386.10 C732.91,385.98 736.38,385.88 739.86,385.97 C743.33,386.06 746.81,386.56 750.28,386.64 C753.76,386.73 757.23,386.61 760.71,386.47 C764.18,386.34 767.65,385.84 771.13,385.83 C774.60,385.82 778.08,386.35 781.55,386.40 C785.03,386.45 788.50,386.17 791.98,386.14 C795.45,386.11 800.66,386.18 802.40,386.19 M802.09,385.85 C802.14,386.61 802.28,388.90 802.36,390.43 C802.43,391.95 802.56,393.48 802.54,395.00 C802.52,396.52 802.31,398.05 802.24,399.57 C802.16,401.10 802.11,403.39 802.08,404.15 M625.50,403.08 C627.30,403.18 632.69,403.68 636.29,403.67 C639.89,403.65 643.48,403.08 647.08,402.99 C650.68,402.90 654.27,403.03 657.87,403.12 C661.47,403.21 665.06,403.47 668.66,403.54 C672.25,403.61 675.85,403.60 679.45,403.54 C683.04,403.48 686.64,403.31 690.24,403.19 C693.83,403.07 697.43,402.84 701.03,402.84 C704.62,402.85 708.22,403.18 711.82,403.23 C715.41,403.27 719.01,403.07 722.61,403.14 C726.20,403.20 729.80,403.65 733.40,403.63 C736.99,403.60 740.59,403.06 744.19,402.97 C747.78,402.89 751.38,403.02 754.98,403.13 C758.57,403.23 762.17,403.66 765.76,403.61 C769.36,403.56 772.96,402.90 776.55,402.83 C780.15,402.75 783.75,403.08 787.34,403.17 C790.94,403.26 796.34,403.35 798.13,403.39 M625.38,385.85 C625.47,386.84 625.82,389.83 625.91,391.82 C626.00,393.81 625.95,395.79 625.92,397.78 C625.88,399.77 625.73,402.76 625.70,403.75" fill="none" stroke="#4a4a4a" stroke-width="1.1" stroke-linecap="round"/>
<g fill="#b4b4b4">
<ellipse cx="616" cy="451.3" rx="14.3" ry="12.3"/>
<path d="M604,459 L606,465.5 L612,461 Z"/>
<ellipse cx="630" cy="460.8" rx="12.5" ry="10.3" stroke="#fff" stroke-width="1.3"/>
<path d="M634,468 L638.7,472.5 L638,465 Z"/>
</g>
<g fill="#fff"><circle cx="611.4" cy="447.8" r="1.8"/><circle cx="621.3" cy="447.8" r="1.8"/>
<circle cx="625.9" cy="458" r="1.6"/><circle cx="634.3" cy="458" r="1.6"/></g>
</svg>
<div class="t root" id="t0" style="left:21.5px;top:248.50px;font-size:18px;color:#111">一文读懂<span style="letter-spacing:-0.3px">Redis RDB</span>持久化：策略、配置与应用</div>
<div class="t main" id="t1" style="left:491.95px;top:31.70px;font-size:11.3px;color:#1c1c1c">写在文章开头</div>
<div class="t main" id="t2" style="left:491.7px;top:123.32px;font-size:11.3px;color:#1c1c1c">详解redis主从复制</div>
<div class="t main" id="t3" style="left:491.7px;top:300.70px;font-size:11.3px;color:#1c1c1c">主从复制进阶知识点</div>
<div class="t main" id="t4" style="left:491.7px;top:430.83px;font-size:11.3px;color:#1c1c1c">小结</div>
<div class="t main" id="t5" style="left:491.7px;top:475.20px;font-size:11.3px;color:#1c1c1c">参考</div>
<div class="t leaf" id="t6" style="left:624.0px;top:71.12px;font-size:9.4px;color:#26235f">主从复制的基本概念</div>
<div class="t leaf" id="t7" style="left:624.0px;top:96.42px;font-size:9.4px;color:#26235f">主从复制使用示例</div>
<div class="t leaf" id="t8" style="left:624.0px;top:122.17px;font-size:9.4px;color:#26235f">演示主从复制运行时异常</div>
<div class="t leaf" id="t9" style="left:624.0px;top:148.30px;font-size:9.4px;color:#26235f">主从复制下的解薪火相传</div>
<div class="t leaf" id="t10" style="left:624.0px;top:173.55px;font-size:9.4px;color:#26235f">反客为主</div>
<div class="t leaf" id="t11" style="left:632.0px;top:209.80px;font-size:9.4px;color:#26235f">主从复制的原理</div>
<div class="t leaf" id="t12" style="left:632.0px;top:235.80px;font-size:9.4px;color:#26235f">主服务器不进行持久化复制存在什么问题</div>
<div class="t leaf" id="t13" style="left:632.0px;top:261.55px;font-size:9.4px;color:#26235f">为什么主从复制使用RDB而不是AOF</div>
<div class="t leaf" id="t14" style="left:632.0px;top:287.18px;font-size:9.4px;color:#26235f">什么是无磁盘复制模式</div>
<div class="t leaf" id="t15" style="left:632.0px;top:312.93px;font-size:9.4px;color:#26235f">为什么会有从库的从库设计</div>
<div class="t leaf" id="t16" style="left:632.0px;top:339.05px;font-size:9.4px;color:#26235f">读写分离及其中的问题</div>
<div class="t leaf" id="t17" style="left:632.0px;top:364.55px;font-size:9.4px;color:#26235f">如果在网络断开期间，repl_backlog_buffer 环形缓冲区写满之后，是进行全量还是增量复制</div>
<div class="t leaf" id="t18" style="left:632.0px;top:390.05px;font-size:9.4px;color:#26235f">1主2从redis架构如何抗住1000w的qps</div>
<div class="t" id="wm" style="left:652px;top:442px;font-size:29px;color:#b4b4b4;letter-spacing:2px">公众号 · 写代码的<span style="display:inline-block;font-size:30px;letter-spacing:3.5px;transform:scaleX(0.86);transform-origin:0 0;position:relative;top:1px;color:#b6b6b6">SharkChili</span></div>
</body></html>
